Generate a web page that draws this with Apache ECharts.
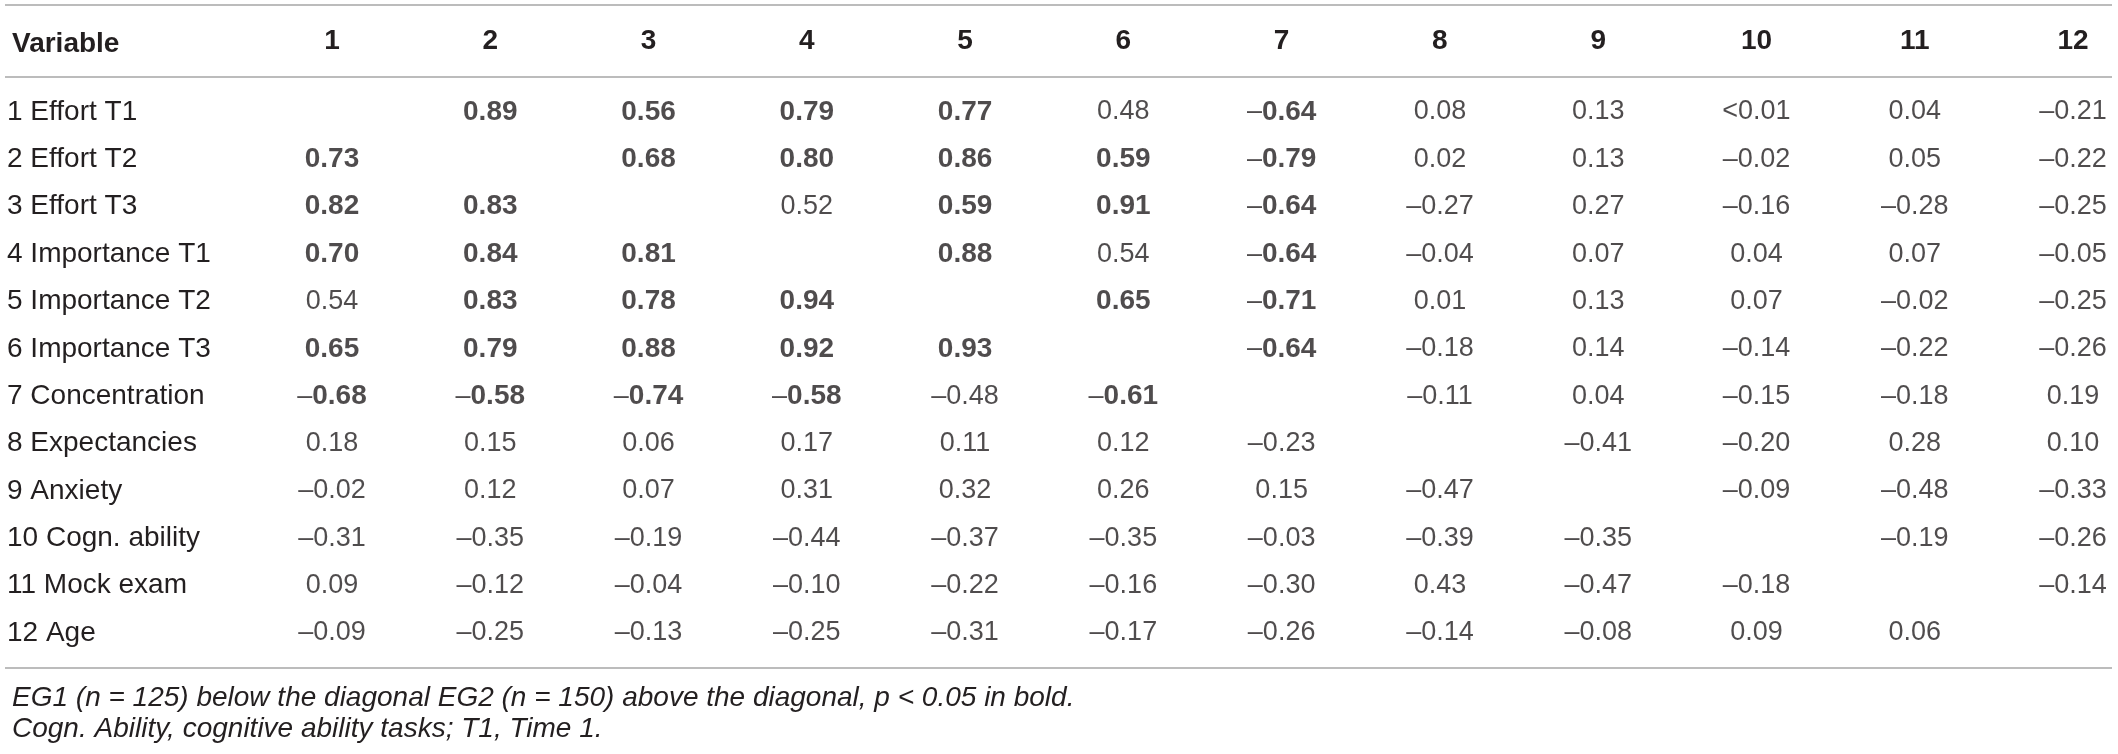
<!DOCTYPE html>
<html>
<head>
<meta charset="utf-8">
<script src="https://cdn.jsdelivr.net/npm/echarts@6/dist/echarts.min.js"></script>
<style>
  html, body { margin: 0; padding: 0; background: #fff; }
  #main { width: 2118px; height: 754px; }
</style>
</head>
<body>
<div id="main"></div>
<script>
// column headers and row labels
const colLabels = ['1', '2', '3', '4', '5', '6', '7', '8', '9', '10', '11', '12'];
const rowLabels = [
  '1 Effort T1', '2 Effort T2', '3 Effort T3', '4 Importance T1', '5 Importance T2',
  '6 Importance T3', '7 Concentration', '8 Expectancies', '9 Anxiety',
  '10 Cogn. ability', '11 Mock exam', '12 Age'
];

// correlation cells, '*' = bold (p < 0.05), '' = diagonal
const effortT1 = ['', '*0.89', '*0.56', '*0.79', '*0.77', '0.48', '*–0.64', '0.08', '0.13', '<0.01', '0.04', '–0.21'];
const effortT2 = ['*0.73', '', '*0.68', '*0.80', '*0.86', '*0.59', '*–0.79', '0.02', '0.13', '–0.02', '0.05', '–0.22'];
const effortT3 = ['*0.82', '*0.83', '', '0.52', '*0.59', '*0.91', '*–0.64', '–0.27', '0.27', '–0.16', '–0.28', '–0.25'];
const importanceT1 = ['*0.70', '*0.84', '*0.81', '', '*0.88', '0.54', '*–0.64', '–0.04', '0.07', '0.04', '0.07', '–0.05'];
const importanceT2 = ['0.54', '*0.83', '*0.78', '*0.94', '', '*0.65', '*–0.71', '0.01', '0.13', '0.07', '–0.02', '–0.25'];
const importanceT3 = ['*0.65', '*0.79', '*0.88', '*0.92', '*0.93', '', '*–0.64', '–0.18', '0.14', '–0.14', '–0.22', '–0.26'];
const concentration = ['*–0.68', '*–0.58', '*–0.74', '*–0.58', '–0.48', '*–0.61', '', '–0.11', '0.04', '–0.15', '–0.18', '0.19'];
const expectancies = ['0.18', '0.15', '0.06', '0.17', '0.11', '0.12', '–0.23', '', '–0.41', '–0.20', '0.28', '0.10'];
const anxiety = ['–0.02', '0.12', '0.07', '0.31', '0.32', '0.26', '0.15', '–0.47', '', '–0.09', '–0.48', '–0.33'];
const cognAbility = ['–0.31', '–0.35', '–0.19', '–0.44', '–0.37', '–0.35', '–0.03', '–0.39', '–0.35', '', '–0.19', '–0.26'];
const mockExam = ['0.09', '–0.12', '–0.04', '–0.10', '–0.22', '–0.16', '–0.30', '0.43', '–0.47', '–0.18', '', '–0.14'];
const age = ['–0.09', '–0.25', '–0.13', '–0.25', '–0.31', '–0.17', '–0.26', '–0.14', '–0.08', '0.09', '0.06', ''];

const footnote1 = 'EG1 (n = 125) below the diagonal EG2 (n = 150) above the diagonal, p < 0.05 in bold.';
const footnote2 = 'Cogn. Ability, cognitive ability tasks; T1, Time 1.';

const rows = [effortT1, effortT2, effortT3, importanceT1, importanceT2, importanceT3,
  concentration, expectancies, anxiety, cognAbility, mockExam, age];

const cells = [];
rows.forEach((row, r) => {
  row.forEach((v, c) => {
    if (v === '') return;
    const bold = v.charAt(0) === '*';
    cells.push([c, r, bold ? v.slice(1) : v, bold]);
  });
});

const FONT = '"Liberation Sans", Arial, Helvetica, sans-serif';
const INK = '#231f20';
const RULE = '#a6a6a6';

const chart = echarts.init(document.getElementById('main'));

const ruleLine = (y) => ({
  type: 'line',
  shape: { x1: 5, y1: y, x2: 2112, y2: y },
  style: { stroke: RULE, lineWidth: 1.6 },
  silent: true
});

chart.setOption({
  animation: false,
  backgroundColor: '#ffffff',
  textStyle: { fontFamily: FONT, color: INK },
  grid: { left: 332, right: 45, top: 112, bottom: 121 },
  xAxis: {
    type: 'category',
    position: 'top',
    data: colLabels,
    boundaryGap: false,
    axisLine: { show: false },
    axisTick: { show: false },
    splitLine: { show: false },
    axisLabel: {
      interval: 0,
      margin: 71,
      verticalAlign: 'middle',
      fontFamily: FONT,
      fontSize: 28,
      fontWeight: 'bold',
      color: INK
    }
  },
  yAxis: {
    type: 'category',
    inverse: true,
    data: rowLabels,
    boundaryGap: false,
    axisLine: { show: false },
    axisTick: { show: false },
    splitLine: { show: false },
    axisLabel: {
      interval: 0,
      margin: 325,
      align: 'left',
      fontFamily: FONT,
      fontSize: 28,
      color: INK
    }
  },
  title: [
    {
      text: 'Variable',
      left: 7,
      top: 25,
      textStyle: { fontFamily: FONT, fontSize: 28, fontWeight: 'bold', color: INK }
    },
    {
      text: footnote1,
      left: 7,
      top: 679,
      textStyle: { fontFamily: FONT, fontSize: 28, fontStyle: 'italic', fontWeight: 'normal', color: INK }
    },
    {
      text: footnote2,
      left: 7,
      top: 710,
      textStyle: { fontFamily: FONT, fontSize: 28, fontStyle: 'italic', fontWeight: 'normal', color: INK }
    }
  ],
  graphic: [ruleLine(5), ruleLine(77), ruleLine(668)],
  series: [
    {
      type: 'scatter',
      data: cells,
      symbol: 'rect',
      symbolSize: 1,
      itemStyle: { color: 'transparent' },
      silent: true,
      label: {
        show: true,
        position: 'inside',
        formatter: (p) => {
          const txt = p.data[2];
          if (!p.data[3]) return '{n|' + txt + '}';
          if (txt.charAt(0) === '–') return '{n|–}{b|' + txt.slice(1) + '}';
          return '{b|' + txt + '}';
        },
        rich: {
          n: { fontFamily: FONT, fontSize: 27, color: INK },
          b: { fontFamily: FONT, fontSize: 28, fontWeight: 'bold', color: INK }
        }
      }
    }
  ]
});
</script>
</body>
</html>
